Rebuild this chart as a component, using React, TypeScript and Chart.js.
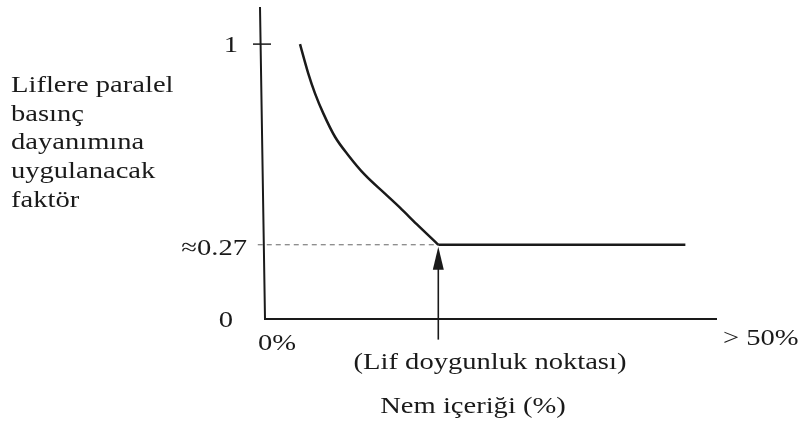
import React, { useEffect, useRef } from "react";
import { Chart, registerables } from "chart.js";

Chart.register(...registerables);

// Moisture content (arbitrary axis units, 0 .. 50 = "> 50%")
const moisture = [3.87, 4.79, 5.53, 6.45, 7.74, 9.21, 11.06, 13.27, 14.93, 16.78, 19.17];
// Factor applied to compressive strength parallel to grain
const factor = [1.0, 0.893, 0.821, 0.748, 0.663, 0.596, 0.524, 0.456, 0.405, 0.345, 0.27];
// Plateau beyond fibre saturation point
const plateauX = [19.17, 46.5];
const plateauY = [0.27, 0.27];
const saturationX = 19.17;
const saturationY = 0.27;
const dashStartX = -0.8;
const arrowBottomY = -0.075;

const yTickValues = [1, 0.27, 0];
const yTickLabels = ["1", "≈0.27", "0"];
const xStartLabel = "0%";
const xEndLabel = "> 50%";
const saturationLabel = "(Lif doygunluk noktası)";
const xTitle = "Nem içeriği (%)";
const yTitleLines = ["Liflere paralel", "basınç", "dayanımına", "uygulanacak", "faktör"];

const X_MIN = 0;
const X_MAX = 50;
const Y_MIN = 0;
const Y_MAX = 1.135;

const FONT = "'Liberation Serif', 'Times New Roman', serif";
const INK = "#1a1a1a";
const STRETCH = 1.19;

function drawText(ctx: CanvasRenderingContext2D, text: string, x: number, y: number, align: CanvasTextAlign) {
  ctx.save();
  ctx.translate(x, y);
  ctx.scale(STRETCH, 1);
  ctx.textAlign = align;
  ctx.fillText(text, 0, 0);
  ctx.restore();
}

const decorPlugin = {
  id: "decor",
  afterDatasetsDraw(chart: any) {
    const { ctx, chartArea, scales } = chart;
    const xs = scales.x;
    const ys = scales.y;
    const x0 = xs.getPixelForValue(0);
    const y0 = ys.getPixelForValue(0);
    ctx.save();
    ctx.strokeStyle = INK;
    ctx.lineWidth = 2;
    ctx.lineCap = "butt";
    // y axis (slightly slanted as in the scan) and x axis
    ctx.beginPath();
    ctx.moveTo(x0 - 5, chartArea.top);
    ctx.lineTo(x0, y0);
    ctx.lineTo(chartArea.right, y0);
    ctx.stroke();
    // tick at 1
    const y1 = ys.getPixelForValue(1);
    ctx.lineWidth = 1.5;
    ctx.beginPath();
    ctx.moveTo(x0 - 12, y1);
    ctx.lineTo(x0 + 6, y1);
    ctx.stroke();
    // arrow
    const ax = xs.getPixelForValue(saturationX);
    const ayTop = ys.getPixelForValue(saturationY) + 2;
    const ayBot = ys.getPixelForValue(arrowBottomY);
    ctx.lineWidth = 1.6;
    ctx.beginPath();
    ctx.moveTo(ax, ayBot);
    ctx.lineTo(ax, ayTop + 20);
    ctx.stroke();
    ctx.fillStyle = INK;
    ctx.beginPath();
    ctx.moveTo(ax, ayTop);
    ctx.lineTo(ax - 5.5, ayTop + 23);
    ctx.lineTo(ax + 5.5, ayTop + 23);
    ctx.closePath();
    ctx.fill();

    // texts
    ctx.fillStyle = INK;
    ctx.font = `24px ${FONT}`;
    ctx.textBaseline = "alphabetic";
    const tickRight = [238, 247, 233];
    const tickBase = [52, 255, 327];
    yTickValues.forEach((v, i) => {
      drawText(ctx, yTickLabels[i], tickRight[i], tickBase[i], "right");
    });
    drawText(ctx, xStartLabel, 258, 350, "left");
    drawText(ctx, xEndLabel, 723, 345, "left");
    drawText(ctx, saturationLabel, 490, 369, "center");
    drawText(ctx, xTitle, 473, 413, "center");
    yTitleLines.forEach((line, i) => {
      drawText(ctx, line, 11, 92 + i * 28.7, "left");
    });
    ctx.restore();
  },
};

export default function App() {
  const ref = useRef<HTMLCanvasElement | null>(null);
  useEffect(() => {
    if (!ref.current) return;
    const chart = new Chart(ref.current, {
      type: "scatter",
      data: {
        datasets: [
          {
            data: moisture.map((x, i) => ({ x, y: factor[i] })),
            showLine: true,
            borderColor: INK,
            borderWidth: 2.5,
            pointRadius: 0,
            cubicInterpolationMode: "monotone",
          },
          {
            data: plateauX.map((x, i) => ({ x, y: plateauY[i] })),
            showLine: true,
            borderColor: INK,
            borderWidth: 2.5,
            pointRadius: 0,
          },
          {
            data: [
              { x: dashStartX, y: saturationY },
              { x: saturationX, y: saturationY },
            ],
            showLine: true,
            borderColor: "#666",
            borderWidth: 1,
            borderDash: [5, 4],
            pointRadius: 0,
            clip: false,
          },
        ],
      } as any,
      options: {
        animation: false,
        responsive: false,
        maintainAspectRatio: false,
        layout: { padding: { left: 265, right: 81, top: 7, bottom: 102 } },
        plugins: { legend: { display: false }, tooltip: { enabled: false } },
        scales: {
          x: { type: "linear", min: X_MIN, max: X_MAX, display: false },
          y: { type: "linear", min: Y_MIN, max: Y_MAX, display: false },
        },
      } as any,
      plugins: [decorPlugin],
    });
    return () => chart.destroy();
  }, []);
  return (
    <div style={{ position: "absolute", left: 0, top: 0, width: 798, height: 421, background: "#fff" }}>
      <canvas ref={ref} width={798} height={421} />
    </div>
  );
}
